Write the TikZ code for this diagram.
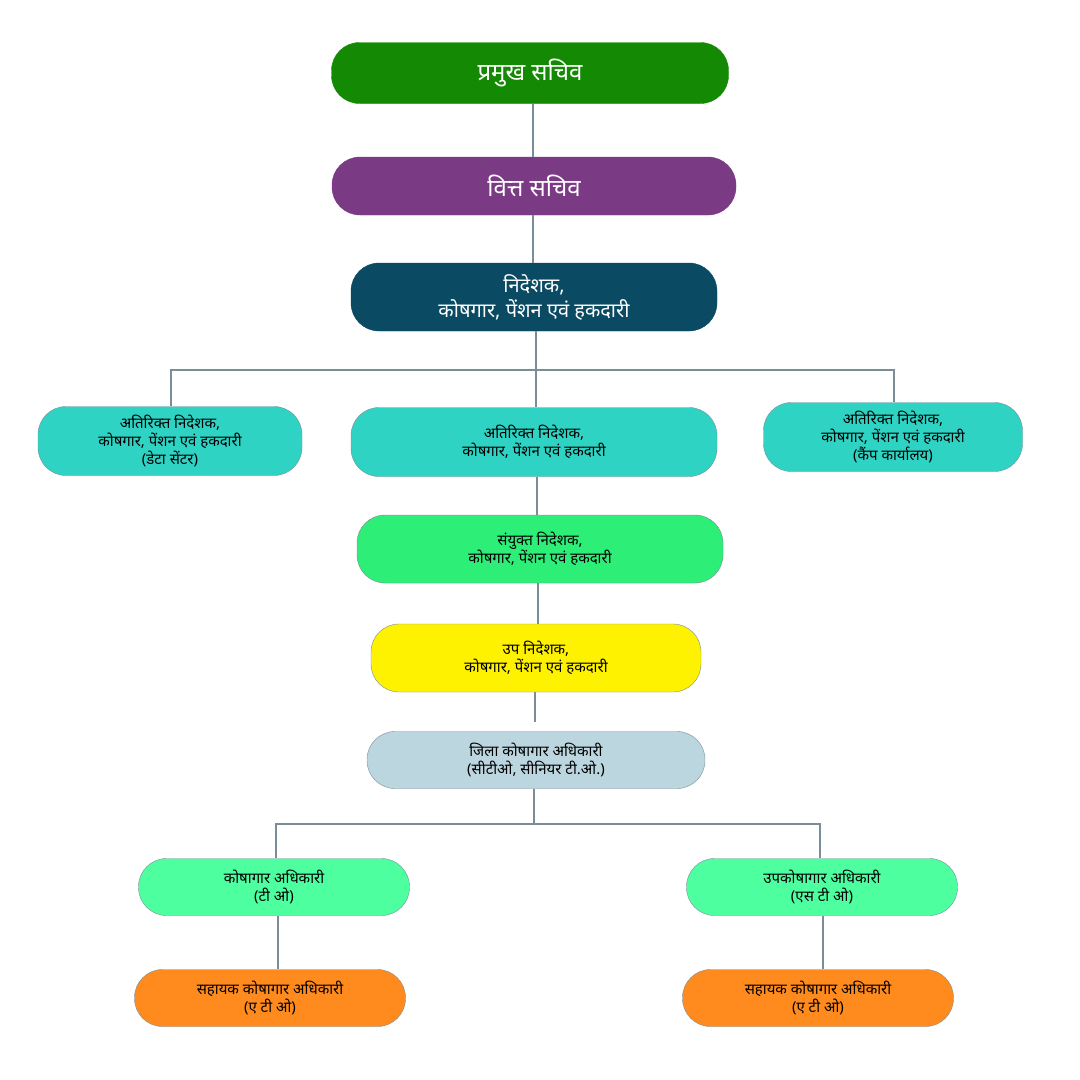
\documentclass[tikz,border=0pt]{standalone}
\usepackage{fontspec}
\setmainfont[Script=Devanagari]{Noto Sans}
\begin{document}
\begin{tikzpicture}[x=1pt,y=-1pt,
  box/.style={draw=#1, rounded corners=28pt, inner sep=0pt, align=center, text=black, font=\fontsize{15}{18}\selectfont},
  ln/.style={draw=lc, line width=1.5pt}]
\definecolor{lc}{HTML}{7A8E99}
\definecolor{c1}{HTML}{148A04}\definecolor{c2}{HTML}{7B3A84}\definecolor{c3}{HTML}{0A4A63}
\definecolor{c4}{HTML}{2ED3C3}\definecolor{c7}{HTML}{2DEF77}\definecolor{c8}{HTML}{FFF200}
\definecolor{c9}{HTML}{BCD6DF}\definecolor{c10}{HTML}{4EFFA0}\definecolor{c12}{HTML}{FF8A1E}
\useasboundingbox (0,0) rectangle (1080,1080);
\fill[white] (0,0) rectangle (1080,1080);
\node[box=c1,fill=c1,minimum width=397pt,minimum height=61pt,text=white,font=\fontsize{24}{28}\selectfont\bfseries] (n1) at (530,73) {प्रमुख सचिव};
\node[box=c2,fill=c2,minimum width=404pt,minimum height=58pt,text=white,font=\fontsize{24}{28}\selectfont\bfseries] (n2) at (534,186) {वित्त सचिव};
\node[box=c3,fill=c3,minimum width=366pt,minimum height=68pt,text=white,font=\fontsize{20}{25}\selectfont] (n3) at (534,297) {\textbf{निदेशक,}\\कोषगार, पेंशन एवं हकदारी};
\node[box=lc,fill=c4,minimum width=264pt,minimum height=69pt] (n4) at (170,441) {\textbf{अतिरिक्त निदेशक,}\\कोषगार, पेंशन एवं हकदारी\\(डेटा सेंटर)};
\node[box=lc,fill=c4,minimum width=366pt,minimum height=69pt] (n5) at (534,442) {\textbf{अतिरिक्त निदेशक,}\\कोषगार, पेंशन एवं हकदारी};
\node[box=lc,fill=c4,minimum width=259pt,minimum height=69pt] (n6) at (893,437) {\textbf{अतिरिक्त निदेशक,}\\कोषगार, पेंशन एवं हकदारी\\(कैंप कार्यालय)};
\node[box=lc,fill=c7,minimum width=366pt,minimum height=68pt] (n7) at (540,549) {\textbf{संयुक्त निदेशक,}\\कोषगार, पेंशन एवं हकदारी};
\node[box=lc,fill=c8,minimum width=330pt,minimum height=68pt] (n8) at (536,658) {\textbf{उप निदेशक,}\\कोषगार, पेंशन एवं हकदारी};
\node[box=lc,fill=c9,minimum width=338pt,minimum height=57pt,font=\fontsize{15}{18}\selectfont\bfseries] (n9) at (536,760) {जिला कोषागार अधिकारी\\(सीटीओ, सीनियर टी.ओ.)};
\node[box=lc,fill=c10,minimum width=271pt,minimum height=57pt,font=\fontsize{15}{18}\selectfont\bfseries] (n10) at (274,887) {कोषागार अधिकारी\\(टी ओ)};
\node[box=lc,fill=c10,minimum width=271pt,minimum height=57pt,font=\fontsize{15}{18}\selectfont\bfseries] (n11) at (822,887) {उपकोषागार अधिकारी\\(एस टी ओ)};
\node[box=lc,fill=c12,minimum width=271pt,minimum height=57pt,font=\fontsize{15}{18}\selectfont\bfseries] (n12) at (270,998) {सहायक कोषागार अधिकारी\\(ए टी ओ)};
\node[box=lc,fill=c12,minimum width=271pt,minimum height=57pt,font=\fontsize{15}{18}\selectfont\bfseries] (n13) at (818,998) {सहायक कोषागार अधिकारी\\(ए टी ओ)};
\coordinate (g) at (535,722);
\begin{scope}[on background layer/.try]
\draw[ln] (n1.south -| 533,0) -- (n2.north -| 533,0);
\draw[ln] (n2.south -| 533,0) -- (n3.north -| 533,0);
\draw[ln] (n3.south -| 536,0) -- (n5.north -| 536,0);
\draw[ln] (n4.north -| 171,0) |- (536,370) -| (n6.north -| 894,0);
\draw[ln] (n5.south -| 537,0) -- (n7.north -| 537,0);
\draw[ln] (n7.south -| 538,0) -- (n8.north -| 538,0);
\draw[ln] (n8.south -| 535,0) -- (g);
\draw[ln] (n9.south -| 534,0) -- (534,824);
\draw[ln] (n10.north -| 276,0) |- (534,824) -| (n11.north -| 820,0);
\draw[ln] (n10.south -| 278,0) -- (n12.north -| 278,0);
\draw[ln] (n11.south -| 823,0) -- (n13.north -| 823,0);
\end{scope}
\end{tikzpicture}
\end{document}
